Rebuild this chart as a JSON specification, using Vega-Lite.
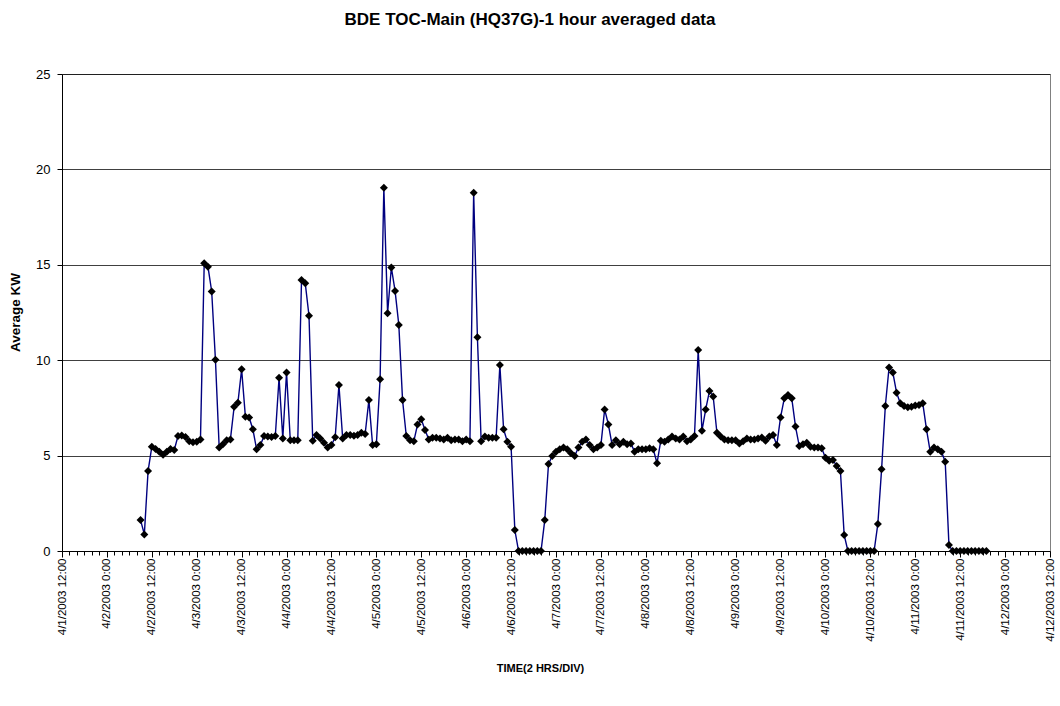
{
  "$schema": "https://vega.github.io/schema/vega-lite/v6.json",
  "width": 988,
  "height": 477,
  "autosize": "none",
  "padding": {"left": 62, "top": 74, "right": 10, "bottom": 155},
  "background": "#ffffff",
  "title": {
    "text": "BDE TOC-Main (HQ37G)-1 hour averaged data",
    "font": "Liberation Sans",
    "fontSize": 17,
    "fontWeight": "bold",
    "color": "#000000",
    "anchor": "middle",
    "dx": -26,
    "offset": 39
  },
  "config": {
    "font": "Liberation Sans",
    "view": {"stroke": "#808080", "strokeWidth": 1},
    "axis": {
      "labelFont": "Liberation Sans",
      "titleFont": "Liberation Sans",
      "labelColor": "#000000",
      "titleColor": "#000000",
      "domainColor": "#000000",
      "tickColor": "#000000",
      "labelFontSize": 12,
      "titleFontSize": 12,
      "titleFontWeight": "bold"
    }
  },
  "data": {
    "values": [
      {"t": "2003-04-02T09:00Z", "kw": 1.62}, {"t": "2003-04-02T10:00Z", "kw": 0.87}, {"t": "2003-04-02T11:00Z", "kw": 4.19}, {"t": "2003-04-02T12:00Z", "kw": 5.47},
      {"t": "2003-04-02T13:00Z", "kw": 5.35}, {"t": "2003-04-02T14:00Z", "kw": 5.2}, {"t": "2003-04-02T15:00Z", "kw": 5.05}, {"t": "2003-04-02T16:00Z", "kw": 5.2},
      {"t": "2003-04-02T17:00Z", "kw": 5.35}, {"t": "2003-04-02T18:00Z", "kw": 5.3}, {"t": "2003-04-02T19:00Z", "kw": 6.03}, {"t": "2003-04-02T20:00Z", "kw": 6.05},
      {"t": "2003-04-02T21:00Z", "kw": 5.98}, {"t": "2003-04-02T22:00Z", "kw": 5.75}, {"t": "2003-04-02T23:00Z", "kw": 5.7},
      {"t": "2003-04-03T00:00Z", "kw": 5.72}, {"t": "2003-04-03T01:00Z", "kw": 5.85}, {"t": "2003-04-03T02:00Z", "kw": 15.08}, {"t": "2003-04-03T03:00Z", "kw": 14.9},
      {"t": "2003-04-03T04:00Z", "kw": 13.6}, {"t": "2003-04-03T05:00Z", "kw": 10.02}, {"t": "2003-04-03T06:00Z", "kw": 5.43}, {"t": "2003-04-03T07:00Z", "kw": 5.6},
      {"t": "2003-04-03T08:00Z", "kw": 5.8}, {"t": "2003-04-03T09:00Z", "kw": 5.85}, {"t": "2003-04-03T10:00Z", "kw": 7.56}, {"t": "2003-04-03T11:00Z", "kw": 7.77},
      {"t": "2003-04-03T12:00Z", "kw": 9.52}, {"t": "2003-04-03T13:00Z", "kw": 7.04}, {"t": "2003-04-03T14:00Z", "kw": 7.0}, {"t": "2003-04-03T15:00Z", "kw": 6.38},
      {"t": "2003-04-03T16:00Z", "kw": 5.33}, {"t": "2003-04-03T17:00Z", "kw": 5.55}, {"t": "2003-04-03T18:00Z", "kw": 6.03}, {"t": "2003-04-03T19:00Z", "kw": 6.0},
      {"t": "2003-04-03T20:00Z", "kw": 5.98}, {"t": "2003-04-03T21:00Z", "kw": 6.03}, {"t": "2003-04-03T22:00Z", "kw": 9.08}, {"t": "2003-04-03T23:00Z", "kw": 5.9},
      {"t": "2003-04-04T00:00Z", "kw": 9.36}, {"t": "2003-04-04T01:00Z", "kw": 5.8}, {"t": "2003-04-04T02:00Z", "kw": 5.8}, {"t": "2003-04-04T03:00Z", "kw": 5.8},
      {"t": "2003-04-04T04:00Z", "kw": 14.2}, {"t": "2003-04-04T05:00Z", "kw": 14.03}, {"t": "2003-04-04T06:00Z", "kw": 12.33}, {"t": "2003-04-04T07:00Z", "kw": 5.78},
      {"t": "2003-04-04T08:00Z", "kw": 6.08}, {"t": "2003-04-04T09:00Z", "kw": 5.9}, {"t": "2003-04-04T10:00Z", "kw": 5.68}, {"t": "2003-04-04T11:00Z", "kw": 5.43},
      {"t": "2003-04-04T12:00Z", "kw": 5.55}, {"t": "2003-04-04T13:00Z", "kw": 5.96}, {"t": "2003-04-04T14:00Z", "kw": 8.7}, {"t": "2003-04-04T15:00Z", "kw": 5.9},
      {"t": "2003-04-04T16:00Z", "kw": 6.08}, {"t": "2003-04-04T17:00Z", "kw": 6.08}, {"t": "2003-04-04T18:00Z", "kw": 6.04}, {"t": "2003-04-04T19:00Z", "kw": 6.08},
      {"t": "2003-04-04T20:00Z", "kw": 6.2}, {"t": "2003-04-04T21:00Z", "kw": 6.13}, {"t": "2003-04-04T22:00Z", "kw": 7.91}, {"t": "2003-04-04T23:00Z", "kw": 5.55},
      {"t": "2003-04-05T00:00Z", "kw": 5.6}, {"t": "2003-04-05T01:00Z", "kw": 9.0}, {"t": "2003-04-05T02:00Z", "kw": 19.04}, {"t": "2003-04-05T03:00Z", "kw": 12.46},
      {"t": "2003-04-05T04:00Z", "kw": 14.86}, {"t": "2003-04-05T05:00Z", "kw": 13.63}, {"t": "2003-04-05T06:00Z", "kw": 11.85}, {"t": "2003-04-05T07:00Z", "kw": 7.91},
      {"t": "2003-04-05T08:00Z", "kw": 6.03}, {"t": "2003-04-05T09:00Z", "kw": 5.8}, {"t": "2003-04-05T10:00Z", "kw": 5.75}, {"t": "2003-04-05T11:00Z", "kw": 6.63},
      {"t": "2003-04-05T12:00Z", "kw": 6.9}, {"t": "2003-04-05T13:00Z", "kw": 6.34}, {"t": "2003-04-05T14:00Z", "kw": 5.85}, {"t": "2003-04-05T15:00Z", "kw": 5.94},
      {"t": "2003-04-05T16:00Z", "kw": 5.94}, {"t": "2003-04-05T17:00Z", "kw": 5.9}, {"t": "2003-04-05T18:00Z", "kw": 5.85}, {"t": "2003-04-05T19:00Z", "kw": 5.94},
      {"t": "2003-04-05T20:00Z", "kw": 5.8}, {"t": "2003-04-05T21:00Z", "kw": 5.85}, {"t": "2003-04-05T22:00Z", "kw": 5.85}, {"t": "2003-04-05T23:00Z", "kw": 5.75},
      {"t": "2003-04-06T00:00Z", "kw": 5.85}, {"t": "2003-04-06T01:00Z", "kw": 5.75}, {"t": "2003-04-06T02:00Z", "kw": 18.78}, {"t": "2003-04-06T03:00Z", "kw": 11.2},
      {"t": "2003-04-06T04:00Z", "kw": 5.75}, {"t": "2003-04-06T05:00Z", "kw": 6.0}, {"t": "2003-04-06T06:00Z", "kw": 5.94}, {"t": "2003-04-06T07:00Z", "kw": 5.94},
      {"t": "2003-04-06T08:00Z", "kw": 5.94}, {"t": "2003-04-06T09:00Z", "kw": 9.75}, {"t": "2003-04-06T10:00Z", "kw": 6.38}, {"t": "2003-04-06T11:00Z", "kw": 5.73},
      {"t": "2003-04-06T12:00Z", "kw": 5.47}, {"t": "2003-04-06T13:00Z", "kw": 1.1}, {"t": "2003-04-06T14:00Z", "kw": 0}, {"t": "2003-04-06T15:00Z", "kw": 0},
      {"t": "2003-04-06T16:00Z", "kw": 0}, {"t": "2003-04-06T17:00Z", "kw": 0}, {"t": "2003-04-06T18:00Z", "kw": 0}, {"t": "2003-04-06T19:00Z", "kw": 0},
      {"t": "2003-04-06T20:00Z", "kw": 0}, {"t": "2003-04-06T21:00Z", "kw": 1.62}, {"t": "2003-04-06T22:00Z", "kw": 4.56}, {"t": "2003-04-06T23:00Z", "kw": 4.98},
      {"t": "2003-04-07T00:00Z", "kw": 5.2}, {"t": "2003-04-07T01:00Z", "kw": 5.33}, {"t": "2003-04-07T02:00Z", "kw": 5.43}, {"t": "2003-04-07T03:00Z", "kw": 5.33},
      {"t": "2003-04-07T04:00Z", "kw": 5.12}, {"t": "2003-04-07T05:00Z", "kw": 4.98}, {"t": "2003-04-07T06:00Z", "kw": 5.43}, {"t": "2003-04-07T07:00Z", "kw": 5.73},
      {"t": "2003-04-07T08:00Z", "kw": 5.85}, {"t": "2003-04-07T09:00Z", "kw": 5.55}, {"t": "2003-04-07T10:00Z", "kw": 5.33}, {"t": "2003-04-07T11:00Z", "kw": 5.43},
      {"t": "2003-04-07T12:00Z", "kw": 5.55}, {"t": "2003-04-07T13:00Z", "kw": 7.42}, {"t": "2003-04-07T14:00Z", "kw": 6.63}, {"t": "2003-04-07T15:00Z", "kw": 5.55},
      {"t": "2003-04-07T16:00Z", "kw": 5.8}, {"t": "2003-04-07T17:00Z", "kw": 5.6}, {"t": "2003-04-07T18:00Z", "kw": 5.73}, {"t": "2003-04-07T19:00Z", "kw": 5.6},
      {"t": "2003-04-07T20:00Z", "kw": 5.64}, {"t": "2003-04-07T21:00Z", "kw": 5.2}, {"t": "2003-04-07T22:00Z", "kw": 5.33}, {"t": "2003-04-07T23:00Z", "kw": 5.33},
      {"t": "2003-04-08T00:00Z", "kw": 5.33}, {"t": "2003-04-08T01:00Z", "kw": 5.38}, {"t": "2003-04-08T02:00Z", "kw": 5.33}, {"t": "2003-04-08T03:00Z", "kw": 4.6},
      {"t": "2003-04-08T04:00Z", "kw": 5.78}, {"t": "2003-04-08T05:00Z", "kw": 5.73}, {"t": "2003-04-08T06:00Z", "kw": 5.85}, {"t": "2003-04-08T07:00Z", "kw": 6.0},
      {"t": "2003-04-08T08:00Z", "kw": 5.9}, {"t": "2003-04-08T09:00Z", "kw": 5.85}, {"t": "2003-04-08T10:00Z", "kw": 6.0}, {"t": "2003-04-08T11:00Z", "kw": 5.75},
      {"t": "2003-04-08T12:00Z", "kw": 5.85}, {"t": "2003-04-08T13:00Z", "kw": 6.03}, {"t": "2003-04-08T14:00Z", "kw": 10.53}, {"t": "2003-04-08T15:00Z", "kw": 6.3},
      {"t": "2003-04-08T16:00Z", "kw": 7.42}, {"t": "2003-04-08T17:00Z", "kw": 8.38}, {"t": "2003-04-08T18:00Z", "kw": 8.1}, {"t": "2003-04-08T19:00Z", "kw": 6.2},
      {"t": "2003-04-08T20:00Z", "kw": 6.0}, {"t": "2003-04-08T21:00Z", "kw": 5.85}, {"t": "2003-04-08T22:00Z", "kw": 5.8}, {"t": "2003-04-08T23:00Z", "kw": 5.8},
      {"t": "2003-04-09T00:00Z", "kw": 5.8}, {"t": "2003-04-09T01:00Z", "kw": 5.64}, {"t": "2003-04-09T02:00Z", "kw": 5.75}, {"t": "2003-04-09T03:00Z", "kw": 5.9},
      {"t": "2003-04-09T04:00Z", "kw": 5.85}, {"t": "2003-04-09T05:00Z", "kw": 5.85}, {"t": "2003-04-09T06:00Z", "kw": 5.9}, {"t": "2003-04-09T07:00Z", "kw": 5.95},
      {"t": "2003-04-09T08:00Z", "kw": 5.78}, {"t": "2003-04-09T09:00Z", "kw": 6.0}, {"t": "2003-04-09T10:00Z", "kw": 6.08}, {"t": "2003-04-09T11:00Z", "kw": 5.55},
      {"t": "2003-04-09T12:00Z", "kw": 7.0}, {"t": "2003-04-09T13:00Z", "kw": 8.0}, {"t": "2003-04-09T14:00Z", "kw": 8.18}, {"t": "2003-04-09T15:00Z", "kw": 8.0},
      {"t": "2003-04-09T16:00Z", "kw": 6.52}, {"t": "2003-04-09T17:00Z", "kw": 5.5}, {"t": "2003-04-09T18:00Z", "kw": 5.6}, {"t": "2003-04-09T19:00Z", "kw": 5.68},
      {"t": "2003-04-09T20:00Z", "kw": 5.47}, {"t": "2003-04-09T21:00Z", "kw": 5.43}, {"t": "2003-04-09T22:00Z", "kw": 5.43}, {"t": "2003-04-09T23:00Z", "kw": 5.38},
      {"t": "2003-04-10T00:00Z", "kw": 4.89}, {"t": "2003-04-10T01:00Z", "kw": 4.73}, {"t": "2003-04-10T02:00Z", "kw": 4.77}, {"t": "2003-04-10T03:00Z", "kw": 4.46},
      {"t": "2003-04-10T04:00Z", "kw": 4.19}, {"t": "2003-04-10T05:00Z", "kw": 0.84}, {"t": "2003-04-10T06:00Z", "kw": 0}, {"t": "2003-04-10T07:00Z", "kw": 0},
      {"t": "2003-04-10T08:00Z", "kw": 0}, {"t": "2003-04-10T09:00Z", "kw": 0}, {"t": "2003-04-10T10:00Z", "kw": 0}, {"t": "2003-04-10T11:00Z", "kw": 0},
      {"t": "2003-04-10T12:00Z", "kw": 0}, {"t": "2003-04-10T13:00Z", "kw": 0}, {"t": "2003-04-10T14:00Z", "kw": 1.42}, {"t": "2003-04-10T15:00Z", "kw": 4.28},
      {"t": "2003-04-10T16:00Z", "kw": 7.6}, {"t": "2003-04-10T17:00Z", "kw": 9.62}, {"t": "2003-04-10T18:00Z", "kw": 9.36}, {"t": "2003-04-10T19:00Z", "kw": 8.3},
      {"t": "2003-04-10T20:00Z", "kw": 7.74}, {"t": "2003-04-10T21:00Z", "kw": 7.6}, {"t": "2003-04-10T22:00Z", "kw": 7.53}, {"t": "2003-04-10T23:00Z", "kw": 7.56},
      {"t": "2003-04-11T00:00Z", "kw": 7.62}, {"t": "2003-04-11T01:00Z", "kw": 7.65}, {"t": "2003-04-11T02:00Z", "kw": 7.75}, {"t": "2003-04-11T03:00Z", "kw": 6.38},
      {"t": "2003-04-11T04:00Z", "kw": 5.2}, {"t": "2003-04-11T05:00Z", "kw": 5.43}, {"t": "2003-04-11T06:00Z", "kw": 5.33}, {"t": "2003-04-11T07:00Z", "kw": 5.2},
      {"t": "2003-04-11T08:00Z", "kw": 4.68}, {"t": "2003-04-11T09:00Z", "kw": 0.31}, {"t": "2003-04-11T10:00Z", "kw": 0}, {"t": "2003-04-11T11:00Z", "kw": 0},
      {"t": "2003-04-11T12:00Z", "kw": 0}, {"t": "2003-04-11T13:00Z", "kw": 0}, {"t": "2003-04-11T14:00Z", "kw": 0}, {"t": "2003-04-11T15:00Z", "kw": 0},
      {"t": "2003-04-11T16:00Z", "kw": 0}, {"t": "2003-04-11T17:00Z", "kw": 0}, {"t": "2003-04-11T18:00Z", "kw": 0}, {"t": "2003-04-11T19:00Z", "kw": 0}
    ]
  },
  "encoding": {
    "x": {
      "field": "t",
      "type": "temporal",
      "scale": {"type": "utc", "nice": false, "domain": [1049198400000, 1050148800000]},
      "axis": {
        "title": "TIME(2 HRS/DIV)",
        "titleFontSize": 11,
        "titleX": 478,
        "titleY": 111,
        "values": [
          1049198400000, 1049205600000, 1049212800000, 1049220000000, 1049227200000, 1049234400000,
          1049241600000, 1049248800000, 1049256000000, 1049263200000, 1049270400000, 1049277600000,
          1049284800000, 1049292000000, 1049299200000, 1049306400000, 1049313600000, 1049320800000,
          1049328000000, 1049335200000, 1049342400000, 1049349600000, 1049356800000, 1049364000000,
          1049371200000, 1049378400000, 1049385600000, 1049392800000, 1049400000000, 1049407200000,
          1049414400000, 1049421600000, 1049428800000, 1049436000000, 1049443200000, 1049450400000,
          1049457600000, 1049464800000, 1049472000000, 1049479200000, 1049486400000, 1049493600000,
          1049500800000, 1049508000000, 1049515200000, 1049522400000, 1049529600000, 1049536800000,
          1049544000000, 1049551200000, 1049558400000, 1049565600000, 1049572800000, 1049580000000,
          1049587200000, 1049594400000, 1049601600000, 1049608800000, 1049616000000, 1049623200000,
          1049630400000, 1049637600000, 1049644800000, 1049652000000, 1049659200000, 1049666400000,
          1049673600000, 1049680800000, 1049688000000, 1049695200000, 1049702400000, 1049709600000,
          1049716800000, 1049724000000, 1049731200000, 1049738400000, 1049745600000, 1049752800000,
          1049760000000, 1049767200000, 1049774400000, 1049781600000, 1049788800000, 1049796000000,
          1049803200000, 1049810400000, 1049817600000, 1049824800000, 1049832000000, 1049839200000,
          1049846400000, 1049853600000, 1049860800000, 1049868000000, 1049875200000, 1049882400000,
          1049889600000, 1049896800000, 1049904000000, 1049911200000, 1049918400000, 1049925600000,
          1049932800000, 1049940000000, 1049947200000, 1049954400000, 1049961600000, 1049968800000,
          1049976000000, 1049983200000, 1049990400000, 1049997600000, 1050004800000, 1050012000000,
          1050019200000, 1050026400000, 1050033600000, 1050040800000, 1050048000000, 1050055200000,
          1050062400000, 1050069600000, 1050076800000, 1050084000000, 1050091200000, 1050098400000,
          1050105600000, 1050112800000, 1050120000000, 1050127200000, 1050134400000, 1050141600000,
          1050148800000
        ],
        "labelExpr": "utchours(datum.value) % 12 === 0 ? utcFormat(datum.value, '%-m/%-d/%Y %-H:%M') : ''",
        "labelAngle": -90,
        "labelFontSize": 11.5,
        "labelFlush": false,
        "labelOverlap": false,
        "labelBound": false,
        "labelPadding": 1,
        "tickSize": {"condition": {"test": "utchours(datum.value) % 12 === 0", "value": 6}, "value": 4},
        "grid": false
      }
    },
    "y": {
      "field": "kw",
      "type": "quantitative",
      "scale": {"domain": [0, 25], "nice": false, "zero": true},
      "axis": {
        "title": "Average KW",
        "titleFontSize": 13.5,
        "values": [0, 5, 10, 15, 20, 25],
        "grid": true,
        "gridColor": "#000000",
        "gridOpacity": 0.75,
        "tickSize": 5,
        "labelFontSize": 13,
        "labelPadding": 7,
        "titleX": -40,
        "titleY": 238
      }
    }
  },
  "layer": [
    {"mark": {"type": "line", "color": "#000080", "strokeWidth": 1.4, "clip": false}},
    {"mark": {"type": "point", "shape": "diamond", "filled": true, "color": "#000000", "size": 64, "opacity": 1, "clip": false}}
  ]
}
